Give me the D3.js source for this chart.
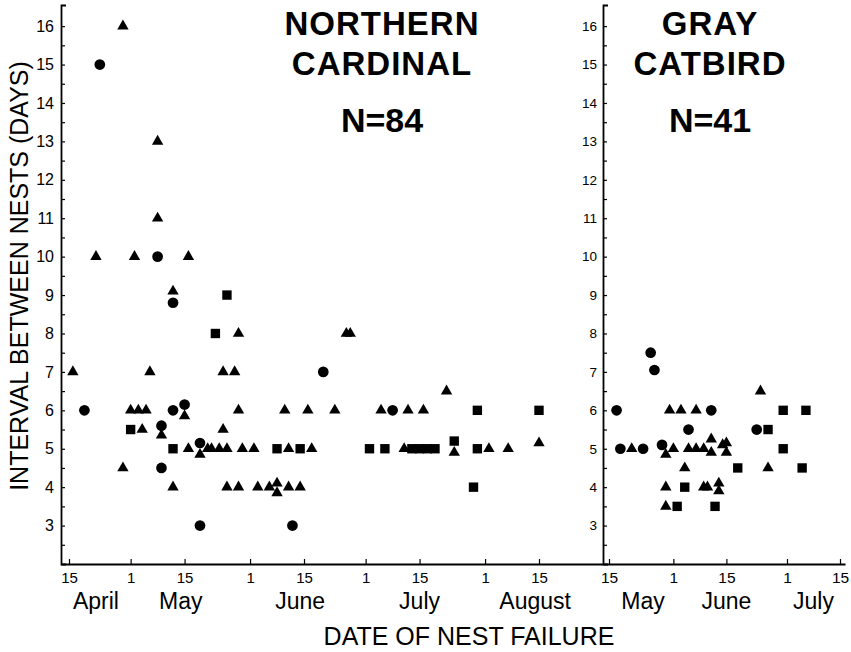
<!DOCTYPE html>
<html>
<head>
<meta charset="utf-8">
<script src="https://cdn.jsdelivr.net/npm/d3@7"></script>
<style>
  body { margin: 0; background: #fff; }
  svg { font-family: "Liberation Sans", Arial, Helvetica, sans-serif; }
  .axis path, .axis line { stroke: #000; }
  .axis text { fill: #000; }
</style>
</head>
<body>
<svg id="chart" width="851" height="652"></svg>
<script>
// Northern Cardinal (N=84): date of nest failure, interval to next nest, marker
// c = circle, t = triangle, s = square
var cardDates = ["04-29","04-23","05-08","05-08","04-22","05-02","05-08","05-16","05-12","05-12",
  "05-26","05-23","05-29","04-16","05-06","05-25","05-28","04-19","05-01","05-03",
  "05-05","05-12","05-15","05-29","06-10","04-29","05-01","05-04","05-09","05-09",
  "05-09","05-12","05-12","05-15","05-16","05-19","05-19","05-19","05-21","05-22",
  "05-24","05-26","05-25","05-30","06-02","05-26","05-29","06-03","06-06","06-08",
  "06-08","06-11","06-14","06-08","06-11","06-14","06-17","06-12","06-16","06-23",
  "06-20","06-26","06-27","07-02","07-06","07-05","07-08","07-12","07-16","07-11",
  "07-13","07-15","07-17","07-19","07-24","07-24","07-22","07-30","07-29","07-30",
  "08-02","08-07","08-15","08-15"]
var cardDays = [16,15,13,11,10,10,10,10,9.1,8.8,
  9,8,8,7,7,7,7,6,6,6,
  6,6,6.15,6,6,4.5,5.5,5.5,5.6,5.35,
  4.5,5,4,5.85,5,5.15,4.85,3,5,5,
  5,5,5.5,5,5,4,4,4,4,4.1,
  3.85,4,4,5,5,5,5,3,6,6,
  7,8,8,5,5,6,6,6,6,5,
  5,5,5,5,5.2,4.9,6.5,6,4,5,
  5,5,6,5.15]
var cardMarks = ["t","c","t","t","t","t","c","t","t","c",
  "s","s","t","t","t","t","t","c","t","t",
  "t","c","c","t","t","t","s","t","c","t",
  "c","s","t","t","t","c","t","c","t","t",
  "t","t","t","t","t","t","t","t","t","t",
  "t","t","t","s","t","s","t","c","t","t",
  "c","t","t","s","s","t","c","t","t","t",
  "s","s","s","s","s","t","t","s","s","s",
  "t","t","s","t"]

// Gray Catbird (N=41)
var catDates = ["05-17","05-26","05-27","06-24","05-31","06-03","06-07","06-11","06-30","07-06",
  "06-05","06-23","06-26","05-18","05-21","05-24","05-29","05-30","06-01","06-05",
  "06-07","06-09","06-11","06-11","06-14","06-15","06-15","06-30","06-04","06-18",
  "06-26","07-05","05-30","06-04","06-09","06-10","06-13","06-13","05-30","06-02",
  "06-12"]
var catDays = [6,7.5,7.05,6.5,6,6,6,6,6,6,
  5.5,5.5,5.5,5,5,5,5.1,4.85,5,5,
  5,5,5.25,4.9,5.1,5.15,4.9,5,4.5,4.5,
  4.5,4.5,4,4,4,4,4.1,3.9,3.5,3.5,
  3.5]
var catMarks = ["c","c","c","t","t","t","t","c","s","s",
  "c","c","s","c","t","c","c","t","t","t",
  "t","t","t","t","t","t","t","s","t","s",
  "t","s","t","s","t","t","t","t","t","s",
  "s"]

// axis labels
var yTickValues = [3,4,5,6,7,8,9,10,11,12,13,14,15,16]
var yMinorTicks = [2.5,3.5,4.5,5.5,6.5,7.5,8.5,9.5,10.5,11.5,12.5,13.5,14.5,15.5]
var cardTickDates = ["04-15","05-01","05-15","06-01","06-15","07-01","07-15","08-01","08-15"]
var catTickDates = ["05-15","06-01","06-15","07-01","07-15"]
var cardMonths = ["April","May","June","July","August"]
var cardMonthAt = ["04-22","05-14","06-14","07-15","08-14"]
var catMonths = ["May","June","July"]
var catMonthAt = ["05-24","06-15","07-08"]

var parse = d3.timeParse("%m-%d")
var svg = d3.select("#chart")

var y = d3.scaleLinear().domain([2, 16.55]).range([564, 5])

// x scales: anchored on two tick dates, then stretched to the axis ends
var xL = d3.scaleTime().domain([parse("04-15"), parse("08-15")]).range([69, 539])
xL.domain([xL.invert(61), xL.invert(603)]).range([61, 603])
var xR = d3.scaleTime().domain([parse("05-15"), parse("07-15")]).range([609, 840])
xR.domain([xR.invert(603), xR.invert(845)]).range([603, 845])

var symbols = {
  c: d3.symbol().type(d3.symbolCircle).size(90)(),
  t: d3.symbol().type(d3.symbolTriangle).size(56)(),
  s: d3.symbol().type(d3.symbolSquare).size(88)()
}

function drawPanel(x, axisX, dates, days, marks, tickDates, months, monthAt, yFont, xFont, yPad) {
  // y axis with labels
  var ya = svg.append("g")
    .attr("class", "axis")
    .attr("transform", "translate(" + axisX + ",0)")
    .call(d3.axisLeft(y).tickValues(yTickValues).tickSize(-4).tickSizeOuter(-5)
      .tickPadding(yPad).tickFormat(d3.format("d")))
  ya.select(".domain").attr("stroke-width", 1.8)
  ya.selectAll("line").attr("stroke-width", 1.2)
  ya.selectAll("text").style("font-size", yFont + "px")

  // half-day minor ticks
  var ym = svg.append("g")
    .attr("class", "axis")
    .attr("transform", "translate(" + axisX + ",0)")
    .call(d3.axisLeft(y).tickValues(yMinorTicks).tickSize(-4).tickFormat(""))
  ym.select(".domain").remove()
  ym.selectAll("line").attr("stroke-width", 1.2)

  // x axis
  var xa = svg.append("g")
    .attr("class", "axis")
    .attr("transform", "translate(0,564)")
    .call(d3.axisBottom(x).tickValues(tickDates.map(parse)).tickSize(-5).tickSizeOuter(0)
      .tickPadding(8).tickFormat(function(d) { return d.getDate() }))
  xa.select(".domain").attr("stroke-width", 1.8)
  xa.selectAll("line").attr("stroke-width", 1.2)
  xa.selectAll("text").style("font-size", xFont + "px")

  // month names
  svg.append("g").selectAll("text")
    .data(months)
    .enter()
    .append("text")
    .attr("x", function(d, i) { return x(parse(monthAt[i])) })
    .attr("y", 609)
    .attr("text-anchor", "middle")
    .style("font-size", "23px")
    .text(function(d) { return d })

  // nests
  svg.append("g").selectAll("path")
    .data(dates)
    .enter()
    .append("path")
    .attr("d", function(d, i) { return symbols[marks[i]] })
    .attr("transform", function(d, i) {
      return "translate(" + x(parse(d)) + "," + y(days[i]) + ")"
    })
    .attr("fill", "#000")
}

drawPanel(xL, 61, cardDates, cardDays, cardMarks, cardTickDates, cardMonths, cardMonthAt, 16, 15, 7)
drawPanel(xR, 603, catDates, catDays, catMarks, catTickDates, catMonths, catMonthAt, 13.5, 15.5, 6)

// species titles
var titles = [
  { x: 382, lines: ["NORTHERN", "CARDINAL", "N=84"] },
  { x: 710, lines: ["GRAY", "CATBIRD", "N=41"] }
]
var titleY = [35, 75, 132]
titles.forEach(function(t) {
  svg.append("g").selectAll("text")
    .data(t.lines)
    .enter()
    .append("text")
    .attr("x", t.x)
    .attr("y", function(d, i) { return titleY[i] })
    .attr("text-anchor", "middle")
    .style("font-size", function(d, i) { return i == 2 ? "34px" : "33px" })
    .style("letter-spacing", function(d, i) { return i == 2 ? "0px" : "1px" })
    .style("font-weight", "bold")
    .text(function(d) { return d })
})

// axis titles
svg.append("text")
  .attr("transform", "translate(28,276) rotate(-90)")
  .attr("text-anchor", "middle")
  .style("font-size", "25px")
  .text("INTERVAL BETWEEN NESTS (DAYS)")

svg.append("text")
  .attr("x", 469)
  .attr("y", 645)
  .attr("text-anchor", "middle")
  .style("font-size", "25px")
  .text("DATE OF NEST FAILURE")
</script>
</body>
</html>
